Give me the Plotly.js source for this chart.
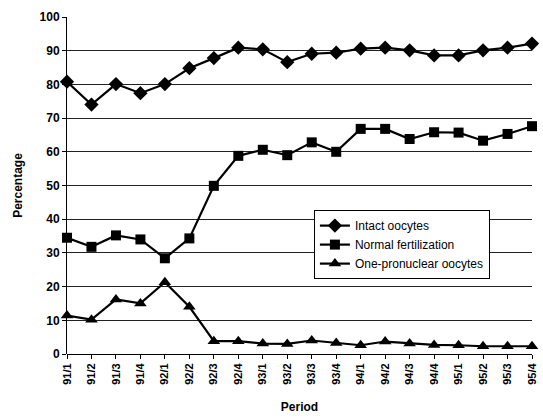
<!DOCTYPE html>
<html>
<head>
<meta charset="utf-8">
<script src="https://cdn.plot.ly/plotly-3.0.1.min.js"></script>
<style>html,body{margin:0;padding:0;background:#fff}#chart{width:543px;height:420px}</style>
</head>
<body>
<div id="chart"></div>
<script>
const periods = ["91/1","91/2","91/3","91/4","92/1","92/2","92/3","92/4","93/1","93/2","93/3","93/4","94/1","94/2","94/3","94/4","95/1","95/2","95/3","95/4"];
const intactOocytes = [80.8,74.0,80.1,77.4,80.1,84.8,87.8,90.9,90.4,86.6,89.1,89.4,90.6,90.9,90.1,88.6,88.6,90.1,90.9,92.1];
const normalFertilization = [34.5,31.8,35.2,34.0,28.4,34.3,49.9,58.8,60.6,59.0,62.8,60.0,66.8,66.8,63.8,65.8,65.7,63.3,65.3,67.6];
const onePronuclear = [11.4,10.2,16.2,15.0,21.3,14.0,3.8,3.8,3.1,3.0,4.0,3.3,2.6,3.7,3.1,2.7,2.6,2.3,2.3,2.3];
const yTicks = [0,10,20,30,40,50,60,70,80,90,100];

const base = {type:'scatter', mode:'lines+markers', x: periods, cliponaxis:false,
  line:{color:'#000', width:2.2}};
const traces = [
  Object.assign({}, base, {y: intactOocytes, name:'Intact oocytes', marker:{symbol:'diamond', size:11, color:'#000'}}),
  Object.assign({}, base, {y: normalFertilization, name:'Normal fertilization', marker:{symbol:'square', size:10, color:'#000'}}),
  Object.assign({}, base, {y: onePronuclear, name:'One-pronuclear oocytes', marker:{symbol:'triangle-up', size:11, color:'#000'}})
];
const font = {family:'Liberation Sans, Arial, sans-serif', color:'#000'};
const layout = {
  width:543, height:420,
  margin:{l:67, r:11, t:17, b:66},
  paper_bgcolor:'#fff', plot_bgcolor:'#fff',
  font: font,
  showlegend:true,
  legend:{x:0.531, y:0.427, xanchor:'left', yanchor:'top', bgcolor:'#fff', bordercolor:'#000', borderwidth:1,
    font:{family:'Liberation Sans, Arial, sans-serif', size:12, color:'#000'}, tracegroupgap:0, itemwidth:30},
  xaxis:{type:'category', range:[0,19], showgrid:false, zeroline:false, showline:false,
    ticks:'outside', ticklen:4, tickcolor:'#000', tickangle:-90,
    tickfont:{family:'Liberation Sans, Arial, sans-serif', size:11, color:'#000', weight:'bold'},
    title:{text:'<b>Period</b>', font:{size:12, color:'#000'}, standoff:18}},
  yaxis:{range:[0,100], tickvals:yTicks, showgrid:true, gridcolor:'#222', gridwidth:1,
    zeroline:true, zerolinecolor:'#000', zerolinewidth:1,
    showline:true, linecolor:'#000', linewidth:1, ticks:'outside', ticklen:4, tickcolor:'#000',
    tickfont:{family:'Liberation Sans, Arial, sans-serif', size:12, color:'#000', weight:'bold'},
    title:{text:'<b>Percentage</b>', font:{size:12, color:'#000'}, standoff:14}}
};
Plotly.newPlot('chart', traces, layout, {displayModeBar:false, staticPlot:true});
</script>
</body>
</html>
